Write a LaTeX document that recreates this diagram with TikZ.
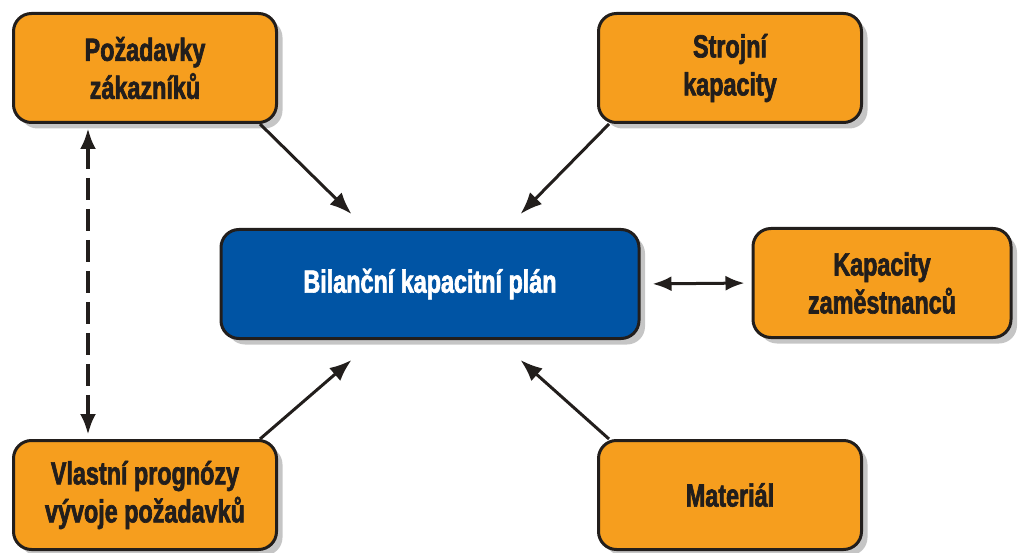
\documentclass[tikz,border=0pt]{standalone}
\usepackage{fontspec}
\newfontfamily\boxfont[FakeStretch=0.73, FakeBold=2]{Liberation Sans}
\usetikzlibrary{arrows.meta, shadows}
\definecolor{boxorange}{RGB}{246,158,30}
\definecolor{boxblue}{RGB}{0,84,164}
\definecolor{boxline}{RGB}{34,30,28}
\begin{document}
\begin{tikzpicture}[
          x=1pt, y=-1pt,
          inbox/.style={rectangle, draw=boxline, line width=3pt, rounded corners=18pt,
            minimum width=263pt, minimum height=109pt, align=center, fill=boxorange,
            text=boxline, font=\boxfont\bfseries\fontsize{32}{38}\selectfont,
            drop shadow={shadow xshift=6pt, shadow yshift=-6pt, fill=black!45}},
          planbox/.style={inbox, fill=boxblue, text=white, minimum width=418pt},
          arrow/.style={-{Latex[length=22pt, width=17pt]}, line width=3pt, draw=boxline},
          dasharrow/.style={{Latex[length=21pt, width=16pt]}-{Latex[length=21pt, width=16pt]},
            line width=4.5pt, draw=boxline, dash pattern=on 22pt off 9pt}
        ]
          \useasboundingbox (0,0) rectangle (1019,553);
          \node[inbox] (pozadavky) at (145,68) {Požadavky\\zákazníků};
          \node[inbox] (strojni) at (730,68) {Strojní\\kapacity};
          \node[planbox] (bilance) at (430,284) {Bilanční kapacitní plán};
          \node[inbox, minimum width=258pt] (zamestnanci) at (882,283) {Kapacity\\zaměstnanců};
          \node[inbox] (prognozy) at (145,495) {Vlastní prognózy\\vývoje požadavků};
          \node[inbox] (material) at (730,495) {Materiál};
          \draw[arrow] ([xshift=-18pt]pozadavky.south east) -- ([xshift=132pt, yshift=14pt]bilance.north west);
          \draw[arrow] ([xshift=12pt]strojni.south west) -- ([xshift=-120pt, yshift=14pt]bilance.north east);
          \draw[arrow] ([xshift=-18pt]prognozy.north east) -- ([xshift=132pt, yshift=-20pt]bilance.south west);
          \draw[arrow] ([xshift=12pt]material.north west) -- ([xshift=-120pt, yshift=-20pt]bilance.south east);
          \draw[arrow, {Latex[length=19pt, width=15pt]}-{Latex[length=19pt, width=15pt]}, shorten <=12pt, shorten >=7pt] (bilance.east) -- (zamestnanci.west);
          \draw[dasharrow, shorten <=4pt, shorten >=4pt] ([xshift=-57pt]pozadavky.south) -- ([xshift=-57pt]prognozy.north);
        \end{tikzpicture}
\end{document}
